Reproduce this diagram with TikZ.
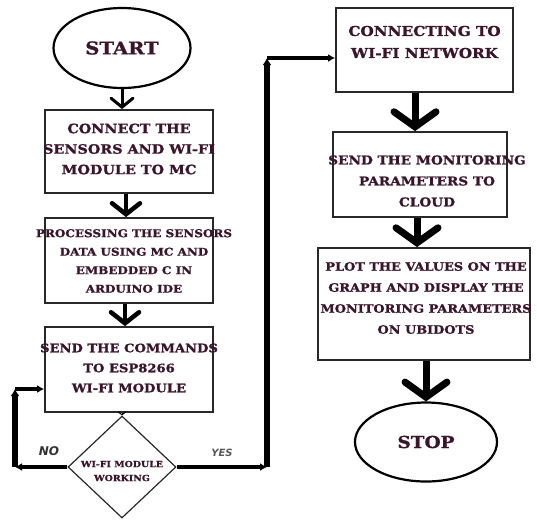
\documentclass[tikz,border=0pt]{standalone}
\usepackage{fontspec}
\setmainfont{DejaVu Serif}
\setsansfont{DejaVu Sans}
\newfontfamily\heavy{DejaVu Serif}[UprightFeatures={FakeStretch=1.12},BoldFeatures={FakeStretch=1.12,FakeBold=1.2}]
\usetikzlibrary{arrows.meta,shapes.geometric}
\definecolor{txt}{RGB}{58,22,44}
\definecolor{edge}{RGB}{40,40,40}
\newcommand{\fs}[2]{\heavy\bfseries\fontsize{#1}{#2}\selectfont}
\tikzset{
  box/.style={draw=edge,line width=1.8pt,rectangle,inner sep=0pt},
  btext/.style={text=txt,align=center,inner sep=0pt},
  term/.style={draw=black,line width=2.2pt,ellipse,inner sep=0pt,text=txt},
  decis/.style={draw=edge,line width=1.2pt,diamond,inner sep=0pt},
  bigarrow/.style={line width=7pt,-{Straight Barb[length=15pt,width=42pt,line cap=round]}},
  midarrow/.style={line width=4.5pt,-{Straight Barb[length=11pt,width=28pt,line cap=round]}},
  smallarrow/.style={line width=3pt,-{Straight Barb[length=9pt,width=22pt,line cap=round]}},
  thinarrow/.style={line width=1pt,-{Straight Barb[length=3pt,width=8pt]}},
  link/.style={line width=4pt,-{Latex[length=7pt,width=8pt]}},
  vlink/.style={line width=5.5pt,-{Latex[length=7pt,width=9pt]}},
}
\begin{document}
\begin{tikzpicture}[x=1pt,y=-1pt]
\useasboundingbox[fill=white] (0,0) rectangle (537,520);
% left column
\node[term,minimum width=137pt,minimum height=80pt,font=\fs{17.5}{22}] (start) at (122,48) {START};
\node[box,minimum width=168pt,minimum height=83pt] (b1) at (129,151.5) {};
\node[btext,font=\fs{12.8}{20.5}] (t1) at (129,149) {CONNECT THE\\ SENSORS AND WI-FI\\ MODULE TO MC};
\node[box,minimum width=168pt,minimum height=85pt] (b2) at (129,260.5) {};
\node[btext,font=\fs{10.7}{18.5}] (t2) at (134,261) {PROCESSING THE SENSORS\\ DATA USING MC AND\\ EMBEDDED C IN\\ ARDUINO IDE};
\node[box,minimum width=168pt,minimum height=85pt] (b3) at (129,369.5) {};
\node[btext,font=\fs{11.7}{20}] (t3) at (129,368) {SEND THE COMMANDS\\ TO ESP8266\\ WI-FI MODULE};
\node[decis,minimum width=108pt,minimum height=102pt] (dec) at (122,467) {};
\node[btext,font=\fs{8.4}{14}] (td) at (122,471) {WI-FI MODULE\\ WORKING};
% right column
\node[box,minimum width=177pt,minimum height=84pt] (b4) at (424.5,50) {};
\node[btext,font=\fs{13.6}{22}] (t4) at (424.5,42) {CONNECTING TO\\ WI-FI NETWORK};
\node[box,minimum width=174pt,minimum height=85pt] (b5) at (420,174.5) {};
\node[btext,font=\fs{12.2}{21}] (t5) at (427,181) {SEND THE MONITORING\\ PARAMETERS TO\\ CLOUD};
\node[box,minimum width=212pt,minimum height=112pt] (b6) at (424,304) {};
\node[btext,font=\fs{11.5}{21}] (t6) at (426,298) {PLOT THE VALUES ON THE\\ GRAPH AND DISPLAY THE\\ MONITORING PARAMETERS\\ ON UBIDOTS};
\node[term,minimum width=142pt,minimum height=79pt,font=\fs{16.5}{22}] (stop) at (426,442) {STOP};
% main arrows
\draw[smallarrow] (start.south) -- (start.south |- b1.north);
\draw[midarrow] (b1.south -| start.south) ++(4,0) coordinate (a2) -- (a2 |- b2.north);
\draw[midarrow] (b2.south -| start.south) ++(3,0) coordinate (a3) -- (a3 |- b3.north);
\draw[thinarrow] (b3.south -| dec.north) -- (dec.north);
\draw[bigarrow] (b4.south -| 415,0) coordinate (a5) -- (a5 |- b5.north);
\draw[bigarrow] (b5.south -| 417,0) coordinate (a6) -- (a6 |- b6.north);
\draw[bigarrow] (b6.south -| stop.north) -- (stop.north);
% NO loop
\coordinate (n1) at (15,467);
\coordinate (n2) at (15,389);
\draw[link] (dec.west) -- (n1);
\draw[vlink] (n1) -- (n2);
\draw[link] (n2) -- (n2 -| b3.west);
\node[text=black!80,font=\sffamily\bfseries\itshape\fontsize{12}{14}\selectfont] (no) at (49,451) {NO};
% YES path
\coordinate (y1) at (267,467);
\coordinate (y2) at (267,58);
\draw[link] (dec.east) -- (y1);
\draw[vlink] (y1) -- (y2);
\draw[link] (y2) -- (y2 -| b4.west);
\node[text=black!65,font=\sffamily\bfseries\itshape\fontsize{10}{12}\selectfont] (yes) at (222,453) {YES};
\end{tikzpicture}
\end{document}
